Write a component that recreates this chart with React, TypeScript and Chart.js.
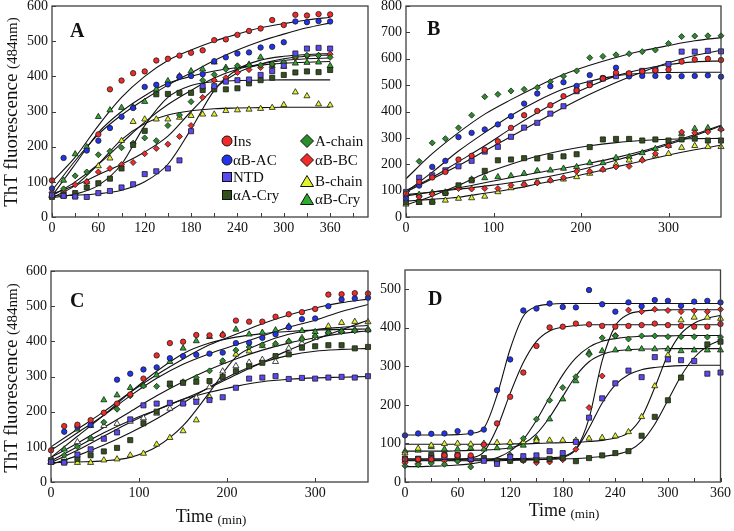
import React, { useEffect, useRef } from 'react';
import { Chart, registerables } from 'chart.js';

Chart.register(...registerables);

const SERIF = "'Liberation Serif', 'Times New Roman', Times, serif";

// ---------- categories ----------
const SERIES = ['Ins', 'αB-AC', 'NTD', 'αA-Cry', 'A-chain', 'αB-BC', 'B-chain', 'αB-Cry'];

// sampling times (min)
const TIMES = [0, 15, 30, 45, 60, 75, 90, 105, 120, 135, 150, 165, 180, 195, 210, 225, 240, 255, 270, 285, 300, 315, 330, 345, 360];
const FIT_TIMES_30 = [0, 30, 60, 90, 120, 150, 180, 210, 240, 270, 300, 330, 360];
const FIT_TIMES_15 = [0, 15, 30, 45, 60, 75, 90, 105, 120, 135, 150, 165, 180, 195, 210, 225, 240, 255, 270, 285, 300, 315, 330, 345, 360];

// ---------- panel A: measured points ----------
const A_Ins = [104, null, null, null, 235, 363, 388, 409, 414, 445, 450, 459, 467, 474, 503, 505, 518, 529, 536, 560, 546, 575, 573, 577, 576];
const A_BAC = [81, 168, null, 189, 217, 253, 285, 310, 370, 376, 377, 399, 401, 406, 443, 454, 465, 468, 482, 484, 497, 556, 554, 557, 556];
const A_NTD = [62, 60, 58, 57, 68, 74, 84, 93, 122, 130, 138, 161, 244, 372, 372, 385, 389, 391, 404, 415, 430, 465, 479, 481, 479];
const A_AACry = [57, 62, 68, 84, 96, 109, 138, 205, 245, 349, 350, 353, 353, 361, 363, 363, 366, 380, 389, 396, 404, 411, 414, 412, 418];
const A_Achain = [58, 80, 117, 128, 177, 187, 197, 210, 225, 217, 260, 290, 328, 389, 405, 420, 430, 431, 432, 435, 440, 456, 460, 459, 454];
const A_BBC = [70, 71, 92, 100, 128, 138, 149, 155, 180, 195, 207, 229, 260, 340, 389, 396, 411, 419, 425, 433, 438, 452, 458, 460, 463];
const A_Bchain = [59, 59, 59, 100, 145, 167, 217, 271, 278, 278, 278, 283, 288, 292, 292, 302, 304, 306, 308, 311, 319, 355, 344, 321, 318];
const A_BCry = [60, 104, 179, 199, 285, 304, 311, 313, 328, 363, 387, 401, 415, 420, 440, 425, 426, 434, 454, 430, 428, 437, 439, 440, 430];
// panel A: fitted curves (every 30 min)
const A_fit_Ins = [100, 170, 260, 340, 400, 445, 475, 500, 520, 538, 550, 560, 568];
const A_fit_BAC = [75, 160, 235, 290, 335, 375, 410, 445, 475, 500, 520, 538, 552];
const A_fit_NTD = [60, 62, 66, 76, 100, 150, 250, 360, 420, 446, 457, 462, 465];
const A_fit_AACry = [55, 65, 90, 150, 260, 340, 374, 385, 388, 389, 390, 390, 390];
const A_fit_Achain = [60, 100, 150, 210, 270, 320, 360, 395, 420, 435, 445, 450, 452];
const A_fit_BBC = [65, 90, 120, 150, 185, 230, 300, 365, 410, 435, 450, 457, 461];
const A_fit_Bchain = [55, 90, 150, 220, 265, 290, 302, 308, 310, 311, 312, 312, 312];
const A_fit_BCry = [60, 150, 240, 300, 345, 380, 400, 415, 425, 432, 437, 440, 442];

// ---------- panel B ----------
const B_Ins = [89, 133, 150, 171, 218, 232, 255, 287, 338, 386, 402, 424, 458, 480, 500, 525, 547, 545, 552, 556, 559, 589, 597, 600, 595];
const B_BAC = [70, 119, 190, 213, 303, 319, 332, 351, 382, 430, 468, 496, 511, 497, 538, 527, 566, 533, 535, 535, 532, 534, 535, 537, 532];
const B_NTD = [95, 149, 158, 177, 192, 213, 248, 266, 304, 339, 357, 392, 420, 477, 506, 525, 534, 542, 554, 559, 580, 627, 627, 630, 628];
const B_AACry = [56, 57, 57, 91, 120, 139, 175, 215, 218, 223, 222, 228, 230, 238, 265, 294, 296, 296, 290, 294, 290, 294, 297, 290, 290];
const B_Achain = [91, 211, 281, 297, 338, 386, 456, 465, 478, 484, 491, 513, 534, 554, 604, 609, 615, 619, 627, 633, 658, 684, 686, 687, 687];
const B_BBC = [76, 76, 86, 91, 108, 106, 108, 108, 120, 123, 129, 139, 149, 173, 173, 180, 190, 192, 215, 240, 270, 322, 319, 323, 332];
const B_Bchain = [48, 55, 60, 63, 70, 72, 78, 95, 110, 127, 135, 139, 143, 152, 165, 180, 200, 215, 218, 233, 240, 263, 270, 266, 266];
const B_BCry = [89, 85, 92, 94, 111, 143, 148, 152, 156, 165, 175, 177, 184, 190, 205, 205, 225, 228, 243, 259, 270, 316, 335, 338, 335];
const B_fit_Ins = [100, 150, 210, 270, 335, 395, 450, 495, 535, 560, 578, 588, 592];
const B_fit_BAC = [95, 170, 250, 320, 385, 440, 485, 515, 535, 545, 548, 549, 549];
const B_fit_NTD = [95, 145, 195, 250, 305, 360, 415, 465, 510, 550, 585, 612, 632];
const B_fit_AACry = [45, 80, 120, 165, 200, 230, 253, 270, 282, 290, 295, 297, 298];
const B_fit_Achain = [145, 240, 320, 390, 445, 495, 540, 575, 605, 630, 650, 668, 680];
const B_fit_BBC = [85, 95, 105, 117, 130, 146, 165, 188, 215, 244, 275, 308, 345];
const B_fit_Bchain = [60, 67, 75, 90, 105, 125, 145, 167, 190, 212, 235, 255, 272];
const B_fit_BCry = [80, 95, 110, 130, 150, 168, 185, 204, 225, 250, 280, 313, 348];

// ---------- panel C ----------
const C_Ins = [90, 159, 163, 176, 197, 223, 249, 294, 360, 395, 399, 418, 417, 418, 459, 456, 456, 470, 477, 483, 492, 533, 534, 537, 536];
const C_BAC = [null, 143, 157, 162, null, 291, 308, 320, 326, 352, 358, 362, 365, 368, 395, 396, 410, 420, 440, 463, 465, 500, 519, 522, 524];
const C_NTD = [57, 55, 78, 93, 123, 141, 178, 218, 223, 225, 223, 228, 233, 241, 268, 294, 297, 301, 293, 296, 294, 297, 299, 297, 301];
const C_AACry = [62, 57, 66, 76, 87, 97, 119, 167, 200, 280, 282, 285, 287, 299, 315, 329, 339, 358, 363, 382, 386, 389, 389, 380, 384];
const C_Achain = [60, 76, 100, 125, 170, 207, 245, 273, 272, 273, 285, 297, 316, 345, 375, 384, 390, 393, 400, 406, 415, 425, 428, 430, 432];
const C_BBC = [55, 68, 114, 123, 160, 166, 172, 182, 195, 209, 225, 240, 270, 315, 330, 340, 348, 342, 380, 395, 410, 425, 430, 432, 435];
const C_Bchain = [57, 57, 55, 55, 62, 65, 76, 81, 107, 126, 145, 176, 242, 342, 363, 372, 387, 392, 400, 410, 413, 443, 453, 456, 455];
const C_BCry = [57, 93, 150, 160, 233, 247, 268, 275, 304, 342, 380, 401, 413, 420, 434, 420, 425, 432, 443, 430, 427, 429, 429, 432, 432];
const C_fit_Ins = [100, 150, 200, 255, 305, 350, 390, 420, 450, 475, 495, 510, 520];
const C_fit_BAC = [90, 140, 190, 245, 295, 335, 365, 390, 415, 440, 460, 485, 505];
const C_fit_NTD = [55, 90, 130, 170, 205, 235, 255, 272, 285, 292, 296, 298, 300];
const C_fit_AACry = [50, 75, 105, 140, 180, 225, 270, 310, 340, 360, 372, 377, 380];
const C_fit_Achain = [70, 110, 155, 200, 245, 285, 320, 350, 375, 395, 410, 422, 430];
const C_fit_BBC = [60, 100, 140, 175, 205, 235, 268, 305, 340, 375, 405, 433, 460];
const C_fit_Bchain = [55, 57, 60, 70, 100, 160, 255, 355, 395, 420, 433, 440, 445];
const C_fit_BCry = [70, 130, 190, 255, 315, 365, 395, 412, 422, 428, 432, 434, 435];

// ---------- panel D ----------
const D_Ins = [59, 59, 59, 69, 69, 69, 97, 152, 221, 284, 353, 401, 403, 411, 409, 405, 403, 405, 407, 411, 407, 405, 403, 403, 410];
const D_BAC = [121, 126, 125, 126, 132, 128, 136, 238, 318, 445, 450, 463, 454, 453, 498, 461, 442, 466, 456, 472, 470, 457, 468, 470, 466];
const D_NTD = [60, 60, 62, 65, 70, 60, 55, 47, 65, 67, 69, 80, 75, 104, 167, 217, 256, 289, 272, 324, 318, 316, 314, 281, 284];
const D_AACry = [60, 60, 70, 70, 65, 60, 62, 55, 55, 58, 58, 60, 63, 54, 62, 69, 75, 80, 120, 169, 212, 271, null, 357, 364];
const D_Achain = [42, 45, 49, 46, 54, 39, 58, 55, 70, 113, 163, 212, 245, 273, 331, 374, 379, 371, 379, 379, 377, 377, 377, 376, 376];
const D_BBC = [50, 48, 52, 55, 55, 55, 58, 52, 55, 55, 50, 52, 58, 85, 193, 275, 380, 446, 442, 448, 445, 442, 444, 442, 448];
const D_Bchain = [75, 87, 95, 99, 100, 98, 100, 102, 102, 104, 107, 108, 108, 108, 113, 115, 119, 130, 169, 249, 329, 420, 427, 427, 424];
const D_BCry = [80, 82, 91, 85, 85, 88, 85, 88, 90, 95, 113, 163, 215, 262, 336, 340, 342, 345, 345, 345, 345, 340, 342, 342, 342];
// panel D fitted curves (every 15 min)
const D_fit_Ins = [57, 57, 57, 57, 58, 62, 78, 140, 230, 310, 365, 392, 402, 406, 408, 408, 408, 408, 408, 408, 408, 408, 408, 408, 408];
const D_fit_BAC = [122, 122, 122, 122, 123, 126, 140, 225, 345, 430, 455, 461, 463, 463, 463, 463, 463, 463, 463, 463, 463, 463, 463, 463, 463];
const D_fit_NTD = [60, 60, 60, 60, 60, 60, 60, 60, 61, 61, 62, 63, 66, 85, 140, 205, 252, 278, 291, 297, 300, 302, 303, 303, 303];
const D_fit_AACry = [57, 57, 57, 57, 57, 57, 57, 58, 58, 58, 59, 59, 60, 61, 63, 66, 71, 81, 105, 150, 212, 275, 323, 352, 368];
const D_fit_Achain = [40, 40, 41, 42, 44, 47, 53, 63, 80, 110, 160, 220, 278, 322, 350, 365, 372, 376, 378, 379, 379, 380, 380, 380, 380];
const D_fit_BBC = [55, 55, 55, 55, 55, 55, 55, 55, 56, 57, 58, 60, 64, 85, 165, 315, 405, 435, 443, 446, 447, 447, 447, 447, 447];
const D_fit_Bchain = [98, 98, 98, 98, 98, 98, 98, 98, 99, 99, 100, 101, 102, 103, 105, 108, 114, 128, 168, 245, 330, 385, 412, 425, 432];
const D_fit_BCry = [80, 80, 80, 80, 81, 82, 83, 85, 89, 100, 125, 168, 222, 275, 312, 331, 340, 343, 345, 345, 346, 346, 346, 346, 346];

// ---------- styles ----------
const COLORS = ['#f22a2a', '#2233ee', '#5a48f0', '#33501c', '#2a8c2a', '#f22a2a', '#e4f22c', '#2cac2c'];
const SHAPES = ['circle', 'circle', 'rect', 'rect', 'rectRot', 'rectRot', 'triangle', 'triangle'];
const RADII = [2.7, 2.7, 3.6, 3.6, 3.0, 3.0, 3.5, 3.5];

type Plot = { l: number; t: number; r: number; b: number };
type PanelDef = {
  plot: Plot;
  xMax: number; xStep: number; xLabelStep: number;
  yMax: number; yStep: number;
  series: (number | null)[][];
  fitT: number[];
  fits: number[][];
  padR: number;
  colorOverride?: Record<number, string>;
  shapeOverride?: Record<number, string>;
};

const PANELS: PanelDef[] = [
  {
    plot: { l: 52, t: 6, r: 368, b: 217 }, xMax: 409, xStep: 30, xLabelStep: 60, yMax: 600, yStep: 100,
    series: [A_Ins, A_BAC, A_NTD, A_AACry, A_Achain, A_BBC, A_Bchain, A_BCry],
    fitT: FIT_TIMES_30,
    fits: [A_fit_Ins, A_fit_BAC, A_fit_NTD, A_fit_AACry, A_fit_Achain, A_fit_BBC, A_fit_Bchain, A_fit_BCry],
    padR: 14,
  },
  {
    plot: { l: 406, t: 6, r: 721, b: 217 }, xMax: 360, xStep: 100, xLabelStep: 100, yMax: 800, yStep: 100,
    series: [B_Ins, B_BAC, B_NTD, B_AACry, B_Achain, B_BBC, B_Bchain, B_BCry],
    fitT: FIT_TIMES_30,
    fits: [B_fit_Ins, B_fit_BAC, B_fit_NTD, B_fit_AACry, B_fit_Achain, B_fit_BBC, B_fit_Bchain, B_fit_BCry],
    padR: 12,
  },
  {
    plot: { l: 51, t: 271, r: 368, b: 482 }, xMax: 360, xStep: 100, xLabelStep: 100, yMax: 600, yStep: 100,
    series: [C_Ins, C_BAC, C_NTD, C_AACry, C_Achain, C_BBC, C_Bchain, C_BCry],
    fitT: FIT_TIMES_30,
    fits: [C_fit_Ins, C_fit_BAC, C_fit_NTD, C_fit_AACry, C_fit_Achain, C_fit_BBC, C_fit_Bchain, C_fit_BCry],
    padR: 14,
    colorOverride: { 5: '#ffffff' },
    shapeOverride: { 5: 'triangle' },
  },
  {
    plot: { l: 405, t: 270, r: 722, b: 482 }, xMax: 360, xStep: 30, xLabelStep: 60, yMax: 550, yStep: 100,
    series: [D_Ins, D_BAC, D_NTD, D_AACry, D_Achain, D_BBC, D_Bchain, D_BCry],
    fitT: FIT_TIMES_15,
    fits: [D_fit_Ins, D_fit_BAC, D_fit_NTD, D_fit_AACry, D_fit_Achain, D_fit_BBC, D_fit_Bchain, D_fit_BCry],
    padR: 12,
  },
];

const Y_W = 52;
const PAD_T = 20;
const X_H = 28;

function Panel({ def }: { def: PanelDef }) {
  const ref = useRef<HTMLCanvasElement>(null);
  const w = Y_W + (def.plot.r - def.plot.l) + def.padR;
  const h = PAD_T + (def.plot.b - def.plot.t) + X_H;

  useEffect(() => {
    if (!ref.current) return;
    const datasets: any[] = [];
    def.series.forEach((vals, si) => {
      const shape = def.shapeOverride?.[si] ?? SHAPES[si];
      const color = def.colorOverride?.[si] ?? COLORS[si];
      const radius = shape === 'triangle' ? 3.5 : RADII[si];
      datasets.push({
        label: SERIES[si],
        data: TIMES.map((t, i) => ({ x: t, y: vals[i] })).filter((p) => p.y !== null),
        showLine: false,
        pointStyle: shape,
        pointRadius: radius,
        pointBackgroundColor: color,
        pointBorderColor: '#1a1a1a',
        pointBorderWidth: 0.8,
        clip: false,
        order: 0,
      });
    });
    def.fits.forEach((vals, si) => {
      datasets.push({
        label: SERIES[si] + ' fit',
        data: def.fitT.map((t, i) => ({ x: t, y: vals[i] })),
        showLine: true,
        borderColor: '#111111',
        borderWidth: 1.1,
        pointRadius: 0,
        cubicInterpolationMode: 'monotone',
        fill: false,
        order: 1,
      });
    });

    const frame = {
      id: 'frameTicks',
      afterDatasetsDraw(chart: any) {
        const { ctx, chartArea } = chart;
        const { left, top, right, bottom } = chartArea;
        const xs = chart.scales.x;
        const ys = chart.scales.y;
        ctx.save();
        ctx.strokeStyle = '#3a3a3a';
        ctx.lineWidth = 1;
        ctx.beginPath();
        xs.ticks.forEach((t: any) => {
          if (t.value % def.xStep !== 0) return;
          const px = Math.round(xs.getPixelForValue(t.value)) + 0.5;
          ctx.moveTo(px, bottom);
          ctx.lineTo(px, bottom - 4);
        });
        ys.ticks.forEach((t: any) => {
          if (t.value % def.yStep !== 0) return;
          const py = Math.round(ys.getPixelForValue(t.value)) + 0.5;
          ctx.moveTo(left, py);
          ctx.lineTo(left + 4, py);
        });
        ctx.stroke();
        ctx.lineWidth = 1.3;
        ctx.strokeStyle = '#404040';
        ctx.strokeRect(left, top, right - left, bottom - top);
        ctx.restore();
      },
    };

    const tickFont = { family: SERIF, size: 14 };
    const chart = new Chart(ref.current, {
      type: 'line',
      data: { datasets },
      options: {
        responsive: false,
        animation: false,
        events: [],
        layout: { padding: { top: PAD_T, right: def.padR, left: 0, bottom: 0 } },
        plugins: { legend: { display: false }, tooltip: { enabled: false } },
        scales: {
          x: {
            type: 'linear',
            min: 0,
            max: def.xMax,
            bounds: 'data',
            grid: { display: false, drawTicks: false },
            border: { display: false },
            ticks: {
              stepSize: def.xStep,
              autoSkip: false,
              maxRotation: 0,
              minRotation: 0,
              padding: 3,
              color: '#111',
              font: tickFont,
              callback: (v: any) => (Number(v) % def.xLabelStep === 0 && Number(v) <= 360 ? String(v) : ''),
            },
            afterFit: (s: any) => { s.height = X_H; },
          },
          y: {
            type: 'linear',
            min: 0,
            max: def.yMax,
            bounds: 'data',
            grid: { display: false, drawTicks: false },
            border: { display: false },
            ticks: {
              stepSize: def.yStep,
              autoSkip: false,
              padding: 4,
              color: '#111',
              font: tickFont,
              callback: (v: any) => (Number(v) % def.yStep === 0 ? String(v) : ''),
            },
            afterFit: (s: any) => { s.width = Y_W; },
          },
        },
      } as any,
      plugins: [frame],
    });
    return () => chart.destroy();
  }, []);

  return (
    <canvas
      ref={ref}
      width={w}
      height={h}
      style={{ position: 'absolute', left: def.plot.l - Y_W, top: def.plot.t - PAD_T, width: w, height: h }}
    />
  );
}

function LegendMarker({ shape, color }: { shape: string; color: string }) {
  const stroke = '#111';
  let el: any = null;
  if (shape === 'circle') el = <circle cx={8} cy={8} r={5} fill={color} stroke={stroke} strokeWidth={1} />;
  else if (shape === 'rect') el = <rect x={3.5} y={3.5} width={9} height={9} fill={color} stroke={stroke} strokeWidth={1} />;
  else if (shape === 'rectRot') el = <polygon points="8,1.5 14.5,8 8,14.5 1.5,8" fill={color} stroke={stroke} strokeWidth={1} />;
  else el = <polygon points="8,2.5 14.5,13.5 1.5,13.5" fill={color} stroke={stroke} strokeWidth={1} />;
  return (
    <svg width={16} height={16} viewBox="0 0 16 16" style={{ position: 'absolute', left: -8, top: -8, overflow: 'visible' }}>
      {el}
    </svg>
  );
}

const LEGEND_POS = [
  { mx: 226.7, my: 141, tx: 233 },
  { mx: 226.7, my: 159.5, tx: 233 },
  { mx: 226.7, my: 177, tx: 233 },
  { mx: 226.7, my: 195, tx: 233 },
  { mx: 306.7, my: 140.5, tx: 315 },
  { mx: 306.7, my: 160, tx: 315 },
  { mx: 306.7, my: 181, tx: 315 },
  { mx: 306.7, my: 199, tx: 315 },
];

const LETTERS = [
  { text: 'A', x: 70, y: 20 },
  { text: 'B', x: 427, y: 18 },
  { text: 'C', x: 70, y: 290 },
  { text: 'D', x: 428, y: 288 },
];

export default function App() {
  const yLabel = (cy: number) => (
    <div
      style={{
        position: 'absolute', left: 11 - 120, top: cy - 12, width: 240, height: 24,
        transform: 'rotate(-90deg)', textAlign: 'center', lineHeight: '24px',
        fontFamily: SERIF, fontSize: 19, whiteSpace: 'nowrap', color: '#111',
      }}
    >
      ThT fluorescence <span style={{ fontSize: 15 }}>(484nm)</span>
    </div>
  );
  const xLabel = (cx: number, top: number) => (
    <div
      style={{
        position: 'absolute', left: cx - 80, top, width: 160, lineHeight: '20px',
        textAlign: 'center', fontFamily: SERIF, fontSize: 18, whiteSpace: 'nowrap', color: '#111',
      }}
    >
      Time <span style={{ fontSize: 13, verticalAlign: '-2px' }}>(min)</span>
    </div>
  );
  return (
    <div style={{ position: 'absolute', left: 0, top: 0, width: 734, height: 531, overflow: 'hidden', background: '#fff' }}>
      {PANELS.map((p, i) => <Panel key={i} def={p} />)}
      {LETTERS.map((l) => (
        <div key={l.text} style={{ position: 'absolute', left: l.x, top: l.y, fontFamily: SERIF, fontWeight: 'bold', fontSize: 20, lineHeight: '20px', color: '#111' }}>
          {l.text}
        </div>
      ))}
      {SERIES.map((s, i) => (
        <React.Fragment key={s}>
          <div style={{ position: 'absolute', left: LEGEND_POS[i].mx, top: LEGEND_POS[i].my, width: 0, height: 0 }}>
            <LegendMarker shape={SHAPES[i]} color={COLORS[i]} />
          </div>
          <div style={{ position: 'absolute', left: LEGEND_POS[i].tx, top: LEGEND_POS[i].my - 9, lineHeight: '18px', fontFamily: SERIF, fontSize: 15, whiteSpace: 'nowrap', color: '#111' }}>
            {s}
          </div>
        </React.Fragment>
      ))}
      {yLabel(112)}
      {yLabel(378)}
      {xLabel(211, 506)}
      {xLabel(564, 500)}
    </div>
  );
}
